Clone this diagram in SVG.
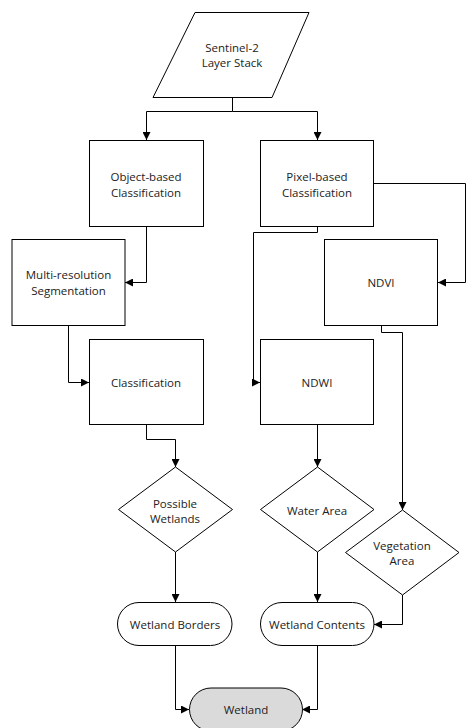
<svg xmlns="http://www.w3.org/2000/svg" width="466" height="728" viewBox="0 0 466 728">
<style>
.s{fill:#fff;stroke:#000;stroke-width:1}
.t{font-family:"Open Sans","Noto Sans","DejaVu Sans",sans-serif;font-size:11.5px;fill:#222;text-anchor:middle;dominant-baseline:central}
.c{fill:none;stroke:#000;stroke-width:1}
</style>
<defs>
<marker id="a" viewBox="0 0 10 10" refX="10" refY="5" markerWidth="8" markerHeight="8" markerUnits="userSpaceOnUse" orient="auto">
<path d="M0,0 L10,5 L0,10 Z" fill="#000"/>
</marker>
</defs>
<rect width="466" height="728" fill="#fff"/>
<g id="connectors">
<path class="c" d="M232.5,97 V111.5 H146.5 V140" marker-end="url(#a)"/>
<path class="c" d="M232.5,111.5 H317.5 V140" marker-end="url(#a)"/>
<path class="c" d="M146.5,226 V282.5 H125" marker-end="url(#a)"/>
<path class="c" d="M373,183.5 H465.5 V282.5 H438" marker-end="url(#a)"/>
<path class="c" d="M68.5,325 V382.5 H89" marker-end="url(#a)"/>
<path class="c" d="M317.5,226 V232.5 H253.5 V382.5 H260" marker-end="url(#a)"/>
<path class="c" d="M381.5,325 V332.5 H402.5 V510" marker-end="url(#a)"/>
<path class="c" d="M146.5,424 V439.5 H175.5 V467" marker-end="url(#a)"/>
<path class="c" d="M317.5,424 V467" marker-end="url(#a)"/>
<path class="c" d="M175.5,552 V602" marker-end="url(#a)"/>
<path class="c" d="M317.5,552 V602" marker-end="url(#a)"/>
<path class="c" d="M402.5,595 V624.5 H374" marker-end="url(#a)"/>
<path class="c" d="M175.5,645 V709.5 H189" marker-end="url(#a)"/>
<path class="c" d="M317.5,645 V709.5 H302" marker-end="url(#a)"/>
</g>
<g id="sentinel">
<polygon class="s" points="195,12.5 309,12.5 272,97.5 153,97.5"/>
<text class="t" x="232" y="47">Sentinel-2</text>
<text class="t" x="232" y="62">Layer Stack</text>
</g>
<g id="object-based">
<rect class="s" x="89.5" y="140.5" width="114" height="86"/>
<text class="t" x="146" y="176">Object-based</text>
<text class="t" x="146" y="192">Classification</text>
</g>
<g id="pixel-based">
<rect class="s" x="260.5" y="140.5" width="113" height="86"/>
<text class="t" x="317" y="176">Pixel-based</text>
<text class="t" x="317" y="192">Classification</text>
</g>
<g id="multires">
<rect class="s" x="12" y="239.5" width="113" height="86"/>
<text class="t" x="68.5" y="274">Multi-resolution</text>
<text class="t" x="68.5" y="290">Segmentation</text>
</g>
<g id="ndvi">
<rect class="s" x="324.5" y="239.5" width="113" height="86"/>
<text class="t" x="381" y="282">NDVI</text>
</g>
<g id="classification">
<rect class="s" x="89.5" y="339.5" width="114" height="85"/>
<text class="t" x="146" y="382">Classification</text>
</g>
<g id="ndwi">
<rect class="s" x="260.5" y="339.5" width="113" height="85"/>
<text class="t" x="317" y="382">NDWI</text>
</g>
<g id="possible-wetlands">
<polygon class="s" points="175.5,467 232.5,509.5 175.5,552 118.5,509.5"/>
<text class="t" x="175" y="503">Possible</text>
<text class="t" x="175" y="518">Wetlands</text>
</g>
<g id="water-area">
<polygon class="s" points="317.5,467 374,509.5 317.5,552 260.5,509.5"/>
<text class="t" x="317" y="510">Water Area</text>
</g>
<g id="vegetation-area">
<polygon class="s" points="402.5,510 459,552.5 402.5,595 345.5,552.5"/>
<text class="t" x="402" y="545">Vegetation</text>
<text class="t" x="402" y="560">Area</text>
</g>
<g id="wetland-borders">
<rect class="s" x="117.5" y="602.5" width="114.5" height="43" rx="21.5"/>
<text class="t" x="175" y="624">Wetland Borders</text>
</g>
<g id="wetland-contents">
<rect class="s" x="260.5" y="602.5" width="113.5" height="43" rx="21.5"/>
<text class="t" x="317" y="624">Wetland Contents</text>
</g>
<g id="wetland">
<rect x="189.5" y="688" width="113" height="43" rx="21.5" fill="#dadada" stroke="#000" stroke-width="1"/>
<text class="t" x="246" y="709">Wetland</text>
</g>
</svg>
